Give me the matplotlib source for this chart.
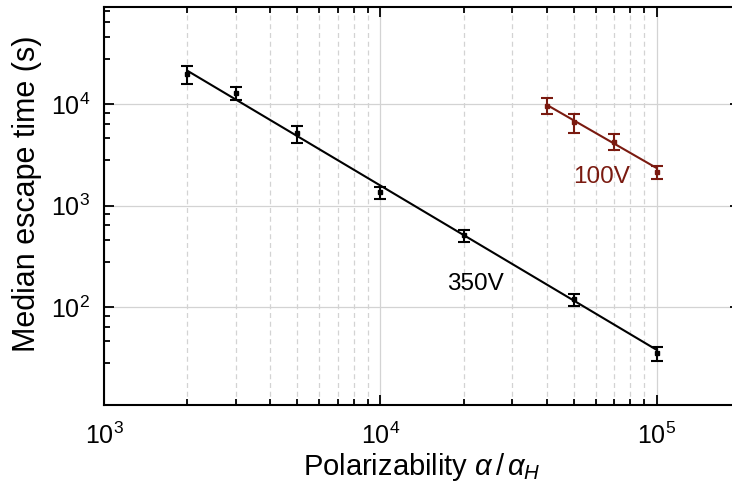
import numpy as np
import matplotlib
matplotlib.use('Agg')
import matplotlib.pyplot as plt
from matplotlib.ticker import FixedLocator, LogLocator, NullFormatter, LogFormatterSciNotation

plt.rcParams['font.family'] = ['Liberation Sans', 'DejaVu Sans']
plt.rcParams['mathtext.fontset'] = 'custom'
plt.rcParams['mathtext.rm'] = 'Liberation Sans'
plt.rcParams['mathtext.it'] = 'Liberation Sans:italic'
plt.rcParams['mathtext.bf'] = 'Liberation Sans:bold'

# 350 V series
pol_350 = [2e3, 3e3, 5e3, 1e4, 2e4, 5e4, 1e5]
time_350 = [19900, 13000, 5180, 1360, 512, 120, 35.2]
err_lo_350 = [15740, 11030, 4130, 1160, 436, 103, 29.8]
err_hi_350 = [23830, 14800, 6150, 1530, 578, 136, 40.6]
fit_x_350 = [2e3, 1e5]
fit_y_350 = [21400, 37.9]

# 100 V series
pol_100 = [4e4, 5e4, 7e4, 1e5]
time_100 = [9690, 6650, 4290, 2170]
err_lo_100 = [7970, 5250, 3550, 1836]
err_hi_100 = [11460, 7970, 5060, 2470]
fit_x_100 = [4e4, 1e5]
fit_y_100 = [9840, 2340]

red = '#7a1a10'

fig = plt.figure(figsize=(7.32, 4.87), dpi=100)
ax = fig.add_axes([0.1421, 0.1684, 0.869, 0.8166])
ax.set_xscale('log')
ax.set_yscale('log')
ax.set_xlim(1e3, 2e5)
ax.set_ylim(10.9, 9.0e4)

# grid
ax.grid(which='major', axis='both', color='#d3d3d3', lw=0.9, ls='-')
ax.grid(which='minor', axis='x', color='#d3d3d3', lw=0.9, ls=(0, (4, 3)))
ax.set_axisbelow(True)

for xs, ys, lo, hi, fx, fy, c in [
        (pol_350, time_350, err_lo_350, err_hi_350, fit_x_350, fit_y_350, 'black'),
        (pol_100, time_100, err_lo_100, err_hi_100, fit_x_100, fit_y_100, red)]:
    ys = np.array(ys)
    yerr = [ys - np.array(lo), np.array(hi) - ys]
    ax.plot(fx, fy, color=c, lw=1.5, zorder=3)
    ax.errorbar(xs, ys, yerr=yerr, fmt='s', color=c, ms=3.2, capsize=4.5,
                elinewidth=1.5, capthick=1.5, zorder=4)

ax.text(1.74e4, 170, '350V', fontsize=17.5, color='black', ha='left', va='center')
ax.text(4.98e4, 1920, '100V', fontsize=17.5, color=red, ha='left', va='center')

# ticks
ax.xaxis.set_major_locator(LogLocator(base=10, numticks=10))
ax.xaxis.set_minor_locator(LogLocator(base=10, subs=np.arange(2, 10), numticks=20))
ax.yaxis.set_major_locator(FixedLocator([1e1, 1e2, 1e3, 1e4]))
ax.yaxis.set_minor_locator(FixedLocator([10**d * (1 + 1.8 * k) for d in range(0, 5) for k in range(1, 5)]))
ax.xaxis.set_minor_formatter(NullFormatter())
ax.yaxis.set_minor_formatter(NullFormatter())
ax.yaxis.set_major_formatter(LogFormatterSciNotation())

ax.tick_params(which='both', direction='in', top=True, right=True, labelsize=18, width=1.3)
ax.tick_params(which='major', length=7)
ax.tick_params(axis='x', which='major', pad=13)
ax.tick_params(axis='y', which='major', pad=10)
ax.tick_params(which='minor', length=4)
for s in ax.spines.values():
    s.set_linewidth(1.5)

ax.set_xlabel(r'Polarizability $\alpha\,/\,\alpha_H$', fontsize=21)
ax.set_ylabel('Median escape time (s)', fontsize=22)
ax.xaxis.set_label_coords(0.5, -0.115)
ax.yaxis.set_label_coords(-0.097, 0.53)

fig.savefig('out.png', dpi=100)
